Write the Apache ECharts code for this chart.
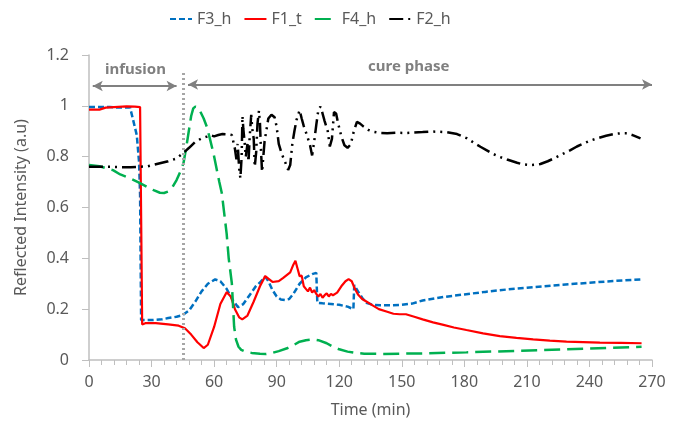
<!DOCTYPE html>
<html>
<head>
<meta charset="utf-8">
<script src="https://cdn.jsdelivr.net/npm/echarts@6/dist/echarts.min.js"></script>
<style>
  html, body { margin: 0; padding: 0; background: #fff; }
  #chart { width: 684px; height: 432px; }
</style>
</head>
<body>
<div id="chart"></div>
<script>
// series names (legend order)
var names = ['F3_h', 'F1_t', 'F4_h', 'F2_h'];

// [time (min), reflected intensity]
var f3_h = [[0,0.995],[10,0.995],[15,0.993],[19.7,0.993],[21,0.95],[22.9,0.885],[24,0.78],[24.5,0.65],[25,0.157],[30,0.157],[35,0.16],[38,0.165],[42,0.17],[45,0.177],[48,0.195],[51,0.23],[54,0.27],[57,0.3],[60.5,0.317],[63,0.31],[66,0.28],[69,0.235],[71.5,0.208],[74,0.22],[77,0.255],[80,0.29],[82,0.305],[84.5,0.328],[86,0.31],[88,0.275],[90,0.25],[92,0.238],[94,0.236],[96,0.24],[98,0.26],[101,0.3],[104,0.325],[107,0.338],[109,0.343],[109.5,0.225],[112,0.223],[116,0.22],[120,0.217],[124,0.21],[126.8,0.2],[127.2,0.295],[129,0.27],[131,0.245],[133,0.225],[136,0.217],[140,0.215],[145,0.215],[150,0.217],[155,0.222],[160,0.234],[170,0.248],[180,0.258],[190,0.268],[200,0.277],[210,0.284],[220,0.291],[230,0.298],[240,0.304],[250,0.31],[265,0.317]];

var f1_t = [[0,0.985],[5,0.985],[8,0.993],[12,0.995],[18,0.998],[22,0.997],[24.5,0.995],[25.2,0.99],[25.5,0.14],[27,0.145],[32,0.145],[38,0.14],[43,0.135],[46,0.125],[49,0.1],[52,0.07],[55,0.047],[57,0.06],[60,0.13],[63,0.22],[66,0.267],[68,0.25],[70,0.2],[72,0.168],[73.5,0.16],[76,0.175],[79,0.23],[82,0.29],[84.5,0.33],[86,0.32],[88,0.307],[91,0.31],[93,0.322],[96.5,0.345],[98,0.375],[99,0.39],[100,0.36],[101,0.33],[102,0.332],[103,0.29],[104,0.28],[105,0.27],[106,0.285],[107,0.265],[108,0.275],[109,0.26],[110,0.25],[111,0.26],[112,0.245],[113,0.255],[114,0.262],[115,0.25],[116,0.26],[117,0.255],[119,0.265],[121,0.29],[123,0.31],[124.5,0.318],[126,0.31],[127.5,0.28],[129,0.258],[131,0.24],[133,0.23],[136,0.215],[139,0.2],[143,0.19],[146,0.182],[149,0.18],[152,0.18],[156,0.17],[160,0.16],[165,0.148],[170,0.138],[175,0.128],[181,0.118],[189,0.105],[197,0.094],[205,0.087],[213,0.081],[221,0.076],[229,0.072],[237,0.07],[245,0.068],[255,0.067],[265,0.066]];

var f4_h = [[0,0.767],[5,0.762],[11.5,0.747],[15,0.73],[19.7,0.715],[24,0.698],[27.7,0.682],[31,0.668],[34,0.658],[36,0.657],[38,0.663],[40,0.68],[42,0.708],[44,0.745],[45.3,0.774],[46.5,0.83],[47.7,0.892],[49,0.96],[50,0.99],[51,0.997],[52,0.995],[53,0.984],[55,0.95],[56.5,0.918],[58,0.87],[59.7,0.813],[61,0.76],[62.5,0.7],[63.7,0.656],[66,0.498],[67,0.4],[68.5,0.302],[69.6,0.131],[70.5,0.08],[71.7,0.052],[73,0.04],[74.9,0.033],[78,0.028],[82,0.025],[85,0.024],[88,0.028],[91,0.035],[95,0.046],[98,0.058],[101,0.072],[104,0.078],[107.7,0.081],[110,0.078],[114,0.066],[117,0.052],[120,0.042],[124,0.033],[127,0.029],[132,0.025],[141,0.024],[160,0.026],[181,0.03],[205,0.036],[229,0.042],[250,0.048],[265,0.052]];

var f2_h = [[0,0.76],[10,0.76],[20,0.758],[28,0.762],[34,0.774],[38,0.782],[42,0.793],[45,0.813],[48,0.835],[51,0.859],[54,0.872],[56.5,0.879],[58,0.885],[60,0.88],[62,0.885],[64,0.889],[66,0.888],[68.5,0.885],
  [70,0.83],[70.7,0.79],[71.3,0.85],[72,0.755],[72.6,0.715],[73.2,0.8],[73.6,0.96],[74,0.91],[74.6,0.86],[75.2,0.8],[76,0.85],[76.5,0.78],[77,0.87],[77.8,0.965],[78.3,0.91],[79,0.87],[79.5,0.76],[80.2,0.82],[80.8,0.93],[81.5,0.98],[82,0.93],[82.5,0.82],[83,0.74],[83.6,0.8],[84.2,0.86],[85,0.9],[86,0.95],[87.5,0.965],[89,0.955],[90,0.917],[91,0.85],[92.5,0.81],[94,0.78],[95.5,0.748],[96.5,0.767],[97.5,0.85],[98.5,0.9],[99.5,0.944],[101,0.983],[102,0.95],[103,0.92],[104.5,0.885],[106,0.845],[107,0.805],[108,0.86],[109,0.925],[110,0.985],[111,0.997],[112,0.97],[113,0.94],[114.5,0.9],[115.5,0.84],[116.5,0.87],[117.5,0.975],[118.5,0.97],[119.5,0.93],[121,0.88],[122.5,0.845],[124,0.835],[125.5,0.848],[127,0.9],[128.5,0.937],[130,0.93],[131.7,0.918],[134,0.905],[136.5,0.898],[140,0.893],[143,0.892],[147.7,0.894],[152,0.893],[155.7,0.895],[160,0.897],[163.7,0.899],[168,0.898],[171.7,0.896],[176.5,0.889],[181.3,0.872],[184.5,0.855],[187.7,0.839],[191,0.824],[194,0.81],[197,0.799],[200.5,0.789],[205.3,0.776],[208,0.77],[211.7,0.767],[214,0.768],[216.5,0.771],[220,0.782],[222.9,0.793],[227,0.81],[230.9,0.826],[234,0.84],[237.3,0.852],[240,0.862],[243.7,0.872],[248,0.882],[251.7,0.889],[255,0.892],[258,0.892],[261,0.884],[264.5,0.872]];

// phase markers: infusion ends at ~45 min
var infusionEnd = 45.3;
var arrowY = 1.078;

var myChart = echarts.init(document.getElementById('chart'));
var font = '"Noto Sans", sans-serif';
var gray = '#595959';

var option = {
  animation: false,
  textStyle: { fontFamily: font },
  legend: {
    left: 164,
    top: 6,
    itemWidth: 22,
    itemHeight: 14,
    itemGap: 12,
    itemStyle: { opacity: 0 }, // hide the circle, keep the line
    textStyle: { fontSize: 16, color: gray, fontFamily: font },
    data: names
  },
  grid: { left: 89, right: 32, top: 55, bottom: 72 },
  xAxis: {
    type: 'value',
    min: 0,
    max: 270,
    interval: 30,
    name: 'Time (min)',
    nameLocation: 'middle',
    nameGap: 42,
    nameTextStyle: { fontSize: 16, color: gray },
    axisLine: { lineStyle: { color: '#BFBFBF', width: 1.5 } },
    axisTick: { show: true, length: 7, inside: false, lineStyle: { color: '#BFBFBF' } },
    minorTick: { show: true, splitNumber: 5, length: 5, lineStyle: { color: '#BFBFBF' } },
    axisLabel: { fontSize: 16, color: gray, margin: 14 },
    splitLine: { show: false }
  },
  yAxis: {
    type: 'value',
    min: 0,
    max: 1.2,
    interval: 0.2,
    name: 'Reflected Intensity (a.u)',
    nameLocation: 'middle',
    nameGap: 60,
    nameTextStyle: { fontSize: 16, color: gray },
    axisLine: { show: true, lineStyle: { color: '#BFBFBF', width: 1.5 } },
    axisTick: { show: true, length: 7, lineStyle: { color: '#BFBFBF' } },
    axisLabel: { fontSize: 16, color: gray, margin: 20 },
    splitLine: { show: false }
  },
  graphic: [
    { type: 'text', left: 105, top: 62, style: { text: 'infusion', fontSize: 15, fontWeight: 'bold', fill: '#808080', fontFamily: font } },
    { type: 'text', left: 368, top: 59, style: { text: 'cure phase', fontSize: 15, fontWeight: 'bold', fill: '#808080', fontFamily: font } }
  ],
  series: [
    {
      name: 'F3_h', type: 'line', data: f3_h, showSymbol: false, symbol: 'none',
      lineStyle: { color: '#0070C0', width: 2.5, type: [6, 3] },
      itemStyle: { color: '#0070C0' },
      markLine: {
        silent: true,
        animation: false,
        symbol: 'none',
        label: { show: false },
        data: [
          // dotted boundary line
          [{ coord: [infusionEnd, 0], symbol: 'none', lineStyle: { color: '#A6A6A6', width: 3, type: [2, 3] } },
           { coord: [infusionEnd, 1.14], symbol: 'none' }],
          // infusion arrow
          [{ coord: [1.8, arrowY], symbol: 'arrow', symbolSize: [8, 10], lineStyle: { color: '#808080', width: 2, type: 'solid' } },
           { coord: [42, arrowY], symbol: 'arrow', symbolSize: [8, 10] }],
          // cure phase arrow
          [{ coord: [47.5, arrowY + 0.006], symbol: 'arrow', symbolSize: [8, 10], lineStyle: { color: '#808080', width: 2, type: 'solid' } },
           { coord: [270, arrowY + 0.006], symbol: 'arrow', symbolSize: [8, 10] }]
        ]
      }
    },
    {
      name: 'F1_t', type: 'line', data: f1_t, showSymbol: false, symbol: 'none',
      lineStyle: { color: '#FF0000', width: 2.2, type: 'solid' },
      itemStyle: { color: '#FF0000' }
    },
    {
      name: 'F4_h', type: 'line', data: f4_h, showSymbol: false, symbol: 'none',
      lineStyle: { color: '#00B050', width: 2.5, type: [16, 7] },
      itemStyle: { color: '#00B050' }
    },
    {
      name: 'F2_h', type: 'line', data: f2_h, showSymbol: false, symbol: 'none',
      lineStyle: { color: '#000000', width: 2.5, type: [14, 5, 2, 5, 2, 5] },
      itemStyle: { color: '#000000' }
    }
  ]
};
myChart.setOption(option);
</script>
</body>
</html>
